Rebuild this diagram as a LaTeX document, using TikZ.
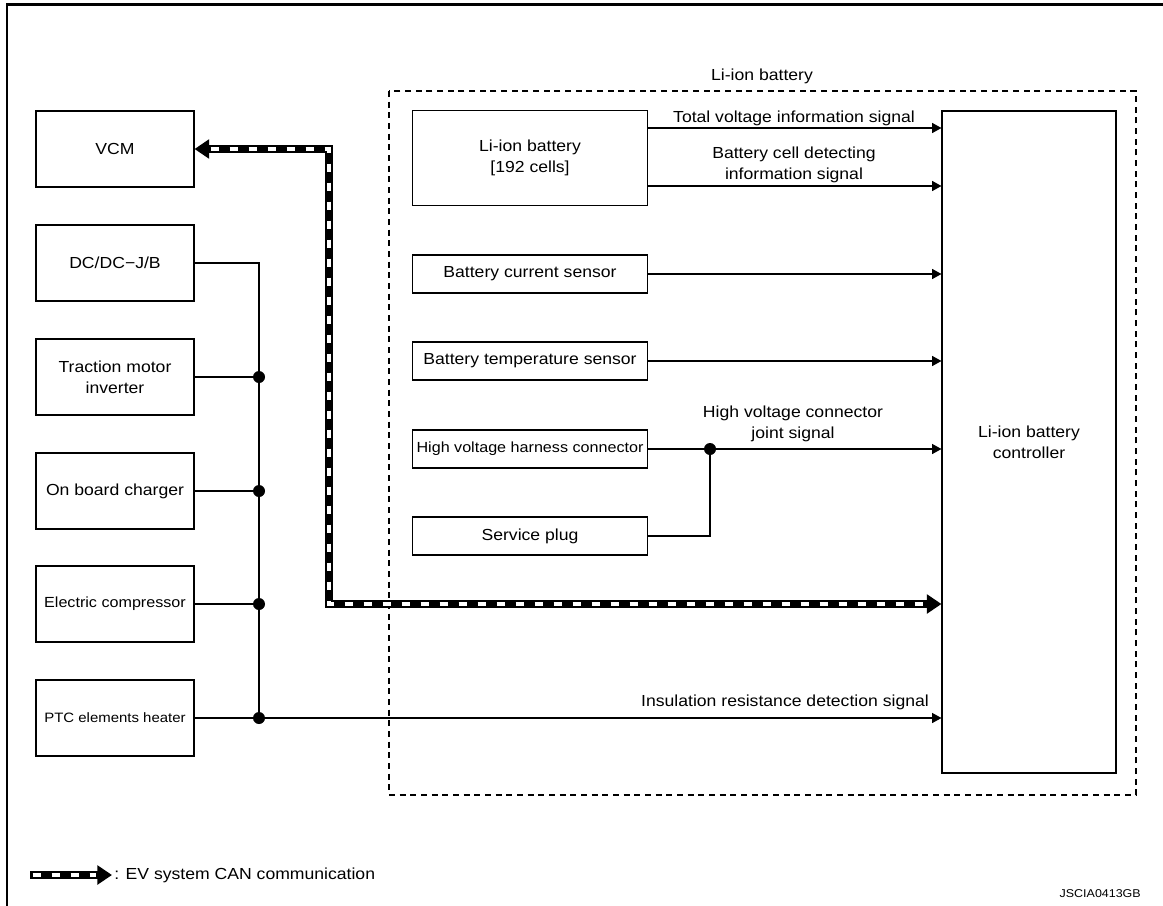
\documentclass[tikz,border=0pt]{standalone}
\usepackage{fontspec}
\setmainfont{Liberation Sans}[FakeStretch=1.1]
\usetikzlibrary{arrows.meta}
\newdimen\px \px=0.75pt
\begin{document}
\begin{tikzpicture}[x=0.75pt,y=-0.75pt,
  txt/.style={font=\fontsize{12}{15.5}\selectfont},
  smalltxt/.style={font=\fontsize{11}{14}\selectfont},
  box/.style={draw, line width=0.8pt, inner sep=0pt, align=center, txt},
  lbox/.style={box, minimum width=158\px, minimum height=76\px},
  sbox/.style={box, minimum width=235\px, minimum height=38\px},
  wire/.style={line width=0.8pt},
  sig/.style={wire, -{Triangle[length=7pt,width=7.5pt]}},
  lbl/.style={txt, align=center, inner sep=1pt},
  jdot/.style={circle, fill, inner sep=0pt, minimum size=9pt},
  canblack/.style={line width=6.5pt, line join=miter,
     {Triangle[length=11pt,width=14pt]}-{Triangle[length=11pt,width=14pt]}},
  canwhite/.style={line width=2.4pt, white, dash pattern=on 6.5pt off 7.75pt},
]
\useasboundingbox (0,0) rectangle (1163,906);
% outer frame
\draw[line width=2.2pt] (7,906) -- (7,4.5) -- (1163,4.5);
% dashed enclosure
\draw[line width=0.8pt, dash pattern=on 4.5pt off 3.5pt] (389,91) rectangle (1136,795);
\node[lbl] (liionlbl) at (762,76) {Li-ion battery};

% left column
\node[lbox] (vcm)  at (115,149) {VCM};
\node[lbox] (dcdc) at (115,263) {DC/DC−J/B};
\node[lbox] (tmi)  at (115,377) {Traction motor\\inverter};
\node[lbox] (obc)  at (115,491) {On board charger};
\node[lbox, smalltxt] (ec)   at (115,604) {Electric compressor};
\node[lbox, font=\fontsize{10.2}{12}\selectfont] (ptc)  at (115,718) {PTC elements heater};

% inner column
\node[box, minimum width=235\px, minimum height=95\px] (bat) at (530,158) {Li-ion battery\\{[192 cells]}};
\node[sbox] (cur)  at (530,274) {Battery current sensor};
\node[sbox] (temp) at (530,361) {Battery temperature sensor};
\node[sbox, smalltxt] (hv) at (530,449) {High voltage harness connector};
\node[sbox] (sp)   at (530,536) {Service plug};

% controller
\node[box, minimum width=174\px, minimum height=662\px] (ctrl) at (1029,442) {Li-ion battery\\controller};

% signals from battery
\draw[sig] (bat.east |- 0,128) -- (ctrl.west |- 0,128);
\node[lbl] (l1) at (794,118) {Total voltage information signal};
\draw[sig] (bat.east |- 0,186) -- (ctrl.west |- 0,186);
\node[lbl] (l2) at (794,165) {Battery cell detecting\\information signal};
\draw[sig] (cur.east) -- (ctrl.west |- cur.east);
\draw[sig] (temp.east) -- (ctrl.west |- temp.east);

% HV joint
\node[jdot] (jhv) at (710,449) {};
\draw[wire] (hv.east) -- (jhv.center);
\draw[wire] (sp.east) -| (jhv.center);
\draw[sig] (jhv.center) -- (ctrl.west |- jhv.center);
\node[lbl] (l3) at (793,424) {High voltage connector\\joint signal};

% bus
\coordinate (b1) at (259,263);
\node[jdot] (b2) at (259,377) {};
\node[jdot] (b3) at (259,491) {};
\node[jdot] (b4) at (259,604) {};
\node[jdot] (b5) at (259,718) {};
\draw[wire] (dcdc.east) -- (b1) -- (b5.center);
\draw[wire] (tmi.east) -- (b2.center);
\draw[wire] (obc.east) -- (b3.center);
\draw[wire] (ec.east) -- (b4.center);
\draw[sig] (ptc.east) -- (ctrl.west |- ptc.east);
\node[lbl] (l4) at (785,702) {Insulation resistance detection signal};

% CAN
\coordinate (c1) at (329,149);
\coordinate (c2) at (329,604);
\draw[canblack] (vcm.east) -- (c1) -- (c2) -- (ctrl.west |- c2);
\draw[canwhite, shorten <=12pt, shorten >=12pt] (vcm.east) -- (c1) -- (c2) -- (ctrl.west |- c2);

% legend
\coordinate (lg1) at (30,875);
\coordinate (lg2) at (112,875);
\draw[line width=6.5pt, -{Triangle[length=11pt,width=14pt]}] (lg1) -- (lg2);
\draw[canwhite, dash phase=-2pt, shorten >=12pt] (lg1) -- (lg2);
\node[txt, anchor=west, inner sep=0pt] (lgt) at (114,875) {: EV system CAN communication};

\node[font=\fontsize{8.5}{10}\selectfont, anchor=east, inner sep=0pt] (code) at (1141,894) {JSCIA0413GB};
\end{tikzpicture}
\end{document}
